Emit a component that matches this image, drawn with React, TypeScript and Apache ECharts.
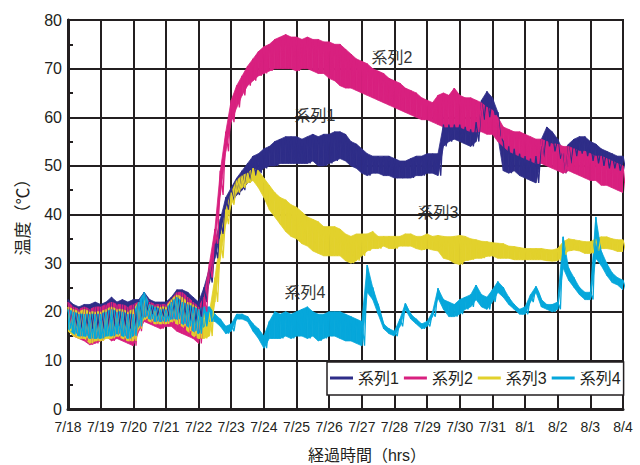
import React, { useEffect, useRef } from "react";
import * as echarts from "echarts";

// X axis tick labels (one per day, 7/18 .. 8/4)
const dateLabels = ["7/18","7/19","7/20","7/21","7/22","7/23","7/24","7/25","7/26","7/27","7/28","7/29","7/30","7/31","8/1","8/2","8/3","8/4"];
const seriesNames = ["系列1","系列2","系列3","系列4"];
const seriesColors = ["#2E2D88","#D8207F","#E2D12C","#06A7DB"];

// Each series: readings per 4-hour slot (6 per day), as a high and a low sample.
const s1Hi = [
  22.5,21.5,21,21.5,21.5,22, 21.5,22,23,22,22.5,22, 22.5,22.5,24,22.5,22,22, 22,23,24.5,24.5,24,23,
  22,25,29,34,39,43.5, 45.5,47.5,49,50.5,52,52.5, 53.5,54,55,55.5,56,56, 56,55.5,56,56.5,56,56.5,
  56.5,57,57,56.5,55,54.5, 53.5,52.5,52,52,52,52, 51.5,51,51,51.5,52,52, 52.5,52.5,52.5,58.5,58.5,58.5,
  58.5,58,57.5,59,63.5,65.3, 64,61,55,54,53.5,52.5, 52,51.5,52,55.5,58,57, 55.5,53,54.5,55.5,56,56,
  55,54.5,53.5,53,52.5,52, 52];
const s1Lo = [
  17,17,16.5,16.5,16.5,16.5, 16.5,17,17,17,17,16.5, 17,18,20,19.5,19,19, 19,19.5,19.5,18.5,18,17.5,
  19,22,26,31,36,41, 42.5,44,45,46.5,48,48.5, 49.5,50,50,50.5,50.5,50.5, 50.5,50.5,50.5,51,50,50,
  50.5,51,51.5,51,50,49.5, 48.5,48,48.5,48.5,48,48, 47.5,47.5,47.5,47.5,48,48, 48.5,48.5,48,54,55,55.5,
  55,54.5,54,55,59.5,60, 60.5,56,49,48.5,49,48, 47.5,47,46.5,51.5,54,53, 51.5,48.5,50.5,52,52.5,52,
  51,50.5,50,49.5,49.5,49, 49];

const s2Hi = [
  22,21,20.5,21,20.5,21, 21,21.5,22,21.5,21.5,21, 21.5,22,23.5,22,21.5,21.5, 21.5,22.5,24,24,23,22,
  21,23,30,37,49,57, 63.5,66.5,68.5,70.5,72,73.5, 74.5,75,76,76.5,77,76.5, 76.5,76,76.5,76,76,75.5,
  75.5,75,75,74,73,72, 71.5,71,70,69.5,69,68, 67.5,67,66,65.5,65,64, 63.5,63,64.5,65,64.5,66,
  64.5,64,64,63.5,63,62, 61.5,60,58,57.5,57,57, 56.5,56,55.5,55.5,55,54.5, 54.5,54,54,53.5,53,53,
  52.5,52,52,51.5,51,50.5, 50];
const s2Lo = [
  17,15,14.5,14,13.2,13.5, 14,15,14,14.5,14,13.5, 13,16,18,17.5,17,16.5, 17,17,16,15.5,15,14.5,
  13.5,20,27,34,44,53, 59,62,64.5,66.5,67.5,68.5, 69,69.5,70,70,70,70, 69.5,70,70,69.5,69,69,
  68,67.5,66.5,66,66,65.5, 65,64.5,64,63.5,63,62.5, 62,61.5,61,60.5,60,59.5, 59.5,59,58.5,58,58,58,
  58,57.5,57,57,57,56.5, 56.5,55,54,53,52.5,52, 51.5,51,50.5,50.5,50,49.5, 49,48.5,49,48.5,48,47.5,
  47,47,46,46,45.5,45, 44.5];

const s3Hi = [
  21,20.5,20,20.5,20,20, 20,20.5,21,20.5,20.5,20, 20.5,22,23.5,21.5,21,21, 21,22.5,23.5,23,22,21.5,
  20.5,20,20,27,35,41, 44.5,47,48,48.5,49.5,49, 47.5,46,44.5,43.5,43,42, 41.5,40.5,39.5,39,38.5,37.5,
  37.5,37.5,37,36,35.5,36, 36,36,36.5,35.5,35.5,35.5, 35.5,35.5,36,36,35.5,35.5, 36,35.5,35.7,35.5,35.4,35.5,
  35.7,35.5,35,34.8,34.5,34.4, 34.2,34.1,34,33.5,33.4,33.2, 33,33,33,33,32.8,32.7, 33,34.4,35,34.8,34.6,34.4,
  34.4,35,35.4,35.4,35,34.8, 34.8];
const s3Lo = [
  16,15,14.5,14.5,13.5,14, 14,14.5,14.5,15,14.5,14, 14,16.5,18.5,18,17.5,17.5, 17.5,18,17.5,17,16,15,
  14.5,14.5,15,22,31,38, 42,44.5,45.5,46.5,47,45.5, 43.5,41,39.5,38,36.5,35.5, 35,34,33.5,32.5,32,31.5,
  31.5,31.5,31.5,30.5,30,30.5, 31.5,32.5,33,33,33.5,33, 33,33.5,33.5,33.5,33,32.7, 33,32.7,32.5,31,30.7,30,
  29.7,30.5,30.7,31,31,31.4, 31.5,31,31,31,30.7,30.7, 30.7,30.7,30.7,30.7,30.5,30.4, 30.5,31.7,32.5,32.7,32.5,32,
  32,32.5,33,33,32.8,32.4, 32.4];

const s4Hi = [
  20.5,20,19.5,19.5,19.5,19.5, 19.5,20,20.5,20,20,19.5, 19.5,22,24,21.5,21,20.5, 20.5,22,23,22,21.5,21,
  20.5,21,21,19.5,18.5,17, 17.5,19.5,19.5,19,17.5,16.5, 15,18,20,19.5,20,19.5, 20,20.5,21,20,19.5,19.5,
  20,20,20,19.5,19,18.5, 18,29.6,25,21.5,17.5,16.5, 16,18.5,21.7,19.5,18.5,17.5, 18,20,24.8,22.5,22,21.5,
  22.5,23,23.5,25.5,23.5,23, 24.5,26.2,25,23,21.5,20.5, 21,23.5,25.2,22.5,21.5,21.5, 22,35.4,29,27,25,24,
  24,39.5,32.5,30,28,27, 26.5];
const s4Lo = [
  16.5,15.5,15,15,14.5,14.5, 14.5,15,15,15.5,15,14.5, 15,17,19,18.5,18,18, 18,18.5,18.5,17.5,17,16,
  15.5,17,18,18,17,15.5, 16,18.5,18.5,18,16,14.5, 12.5,14.5,14.5,14.5,15,14.5, 15,15,14.5,15,14,14.5,
  15,15,14.5,14,14,13.5, 13,24,22.5,19.5,16.5,15.5, 15,17,20.5,18.5,17.5,16.5, 17,19,22.8,20.5,19,19,
  19.5,20.5,21,22.5,21,20.5, 22,24,23,21.5,20.5,19.5, 19.5,22,24,21,20.5,20, 20.5,29,26.5,25,23.5,22.5,
  22.5,31,29.5,27.5,26,25.5, 24.5];

const hiSeries = [s1Hi, s2Hi, s3Hi, s4Hi];
const loSeries = [s1Lo, s2Lo, s3Lo, s4Lo];

const FONT = "'Liberation Sans', Arial, 'Noto Sans CJK JP', sans-serif";
const INK = "#231f20";
const SLOTS_PER_DAY = 6;

// zigzag samples: high at the slot start, low two hours later
function toPoints(hi: number[], lo: number[]) {
  const pts: number[][] = [];
  hi.forEach((h, k) => {
    const t = k / SLOTS_PER_DAY;
    pts.push([t, h]);
    pts.push([t + 1 / (2 * SLOTS_PER_DAY), lo[k]]);
  });
  return pts;
}

// band segments between consecutive slots: [t0, lo0, hi0, t1, lo1, hi1]
function toBand(hi: number[], lo: number[]) {
  const rows: number[][] = [];
  for (let k = 0; k < hi.length - 1; k++) {
    rows.push([k / SLOTS_PER_DAY, lo[k], hi[k], (k + 1) / SLOTS_PER_DAY, lo[k + 1], hi[k + 1]]);
  }
  return rows;
}

export default function App() {
  const ref = useRef<HTMLDivElement>(null);
  useEffect(() => {
    if (!ref.current) return;
    const chart = echarts.init(ref.current, null, { renderer: "svg" });
    const series: any[] = [];
    seriesNames.forEach((name, i) => {
      const color = seriesColors[i];
      series.push({
        name: name + " band",
        type: "custom",
        data: toBand(hiSeries[i], loSeries[i]),
        encode: { x: [0, 3], y: [1, 2, 4, 5] },
        clip: true,
        silent: true,
        renderItem: (params: any, api: any) => {
          const a = api.coord([api.value(0), api.value(1)]);
          const b = api.coord([api.value(0), api.value(2)]);
          const c = api.coord([api.value(3), api.value(5)]);
          const d = api.coord([api.value(3), api.value(4)]);
          return {
            type: "polygon",
            shape: { points: [a, b, c, d] },
            style: { fill: color, stroke: color, lineWidth: 0.8 },
          };
        },
      });
      series.push({
        name, type: "line",
        data: toPoints(hiSeries[i], loSeries[i]),
        showSymbol: false, symbol: "none",
        color,
        lineStyle: { color, width: 1.3 },
        clip: true, silent: true,
      });
    });

    const option: any = {
      animation: false,
      backgroundColor: "#ffffff",
      grid: {
        left: 68, right: 17, top: 20, bottom: 56,
        show: true, borderColor: INK, borderWidth: 2, backgroundColor: "transparent",
      },
      legend: {
        data: seriesNames,
        left: 327, top: 362,
        orient: "horizontal",
        icon: "rect",
        itemWidth: 23, itemHeight: 3, itemGap: 5,
        padding: [8, 3, 9, 3],
        backgroundColor: "#ffffff",
        borderColor: INK, borderWidth: 1.5,
        textStyle: { fontSize: 16, fontFamily: FONT, color: INK },
      },
      xAxis: {
        type: "value", min: 0, max: 17, interval: 1,
        axisLine: { show: true, lineStyle: { color: INK, width: 3 } },
        axisTick: { show: false },
        axisLabel: {
          fontSize: 14, fontFamily: FONT, color: INK, margin: 11,
          showMinLabel: true, showMaxLabel: true,
          formatter: (v: number) => dateLabels[Math.round(v)] ?? "",
        },
        splitLine: { show: true, lineStyle: { color: INK, width: 2 } },
      },
      yAxis: {
        type: "value", min: 0, max: 80, interval: 10,
        axisLine: { show: true, lineStyle: { color: INK, width: 3 } },
        axisTick: { show: true, inside: true, length: 5, lineStyle: { color: INK, width: 2 } },
        minorTick: { show: true, splitNumber: 2, length: 5, lineStyle: { color: INK, width: 2 } },
        axisLabel: { fontSize: 16, fontFamily: FONT, color: INK, margin: 6 },
        splitLine: { show: true, lineStyle: { color: INK, width: 2 } },
      },
      series,
      graphic: [
        { type: "text", x: 23, y: 213, rotation: Math.PI / 2,
          style: { text: "温度（℃）", fontSize: 17, fontFamily: FONT, fill: INK, align: "center", verticalAlign: "middle" } },
        { type: "text", x: 367, y: 455,
          style: { text: "経過時間（hrs）", fontSize: 16, fontFamily: FONT, fill: INK, align: "center", verticalAlign: "middle" } },
        { type: "text", x: 392, y: 57,
          style: { text: "系列2", fontSize: 16, fontFamily: FONT, fill: "#333333", align: "center", verticalAlign: "middle" } },
        { type: "text", x: 315, y: 115,
          style: { text: "系列1", fontSize: 16, fontFamily: FONT, fill: "#333333", align: "center", verticalAlign: "middle" } },
        { type: "text", x: 438, y: 212,
          style: { text: "系列3", fontSize: 16, fontFamily: FONT, fill: "#333333", align: "center", verticalAlign: "middle" } },
        { type: "text", x: 305, y: 292,
          style: { text: "系列4", fontSize: 16, fontFamily: FONT, fill: "#333333", align: "center", verticalAlign: "middle" } },
      ],
    };
    chart.setOption(option);
    return () => chart.dispose();
  }, []);
  return <div ref={ref} style={{ width: 640, height: 465, position: "absolute", left: 0, top: 0 }} />;
}
